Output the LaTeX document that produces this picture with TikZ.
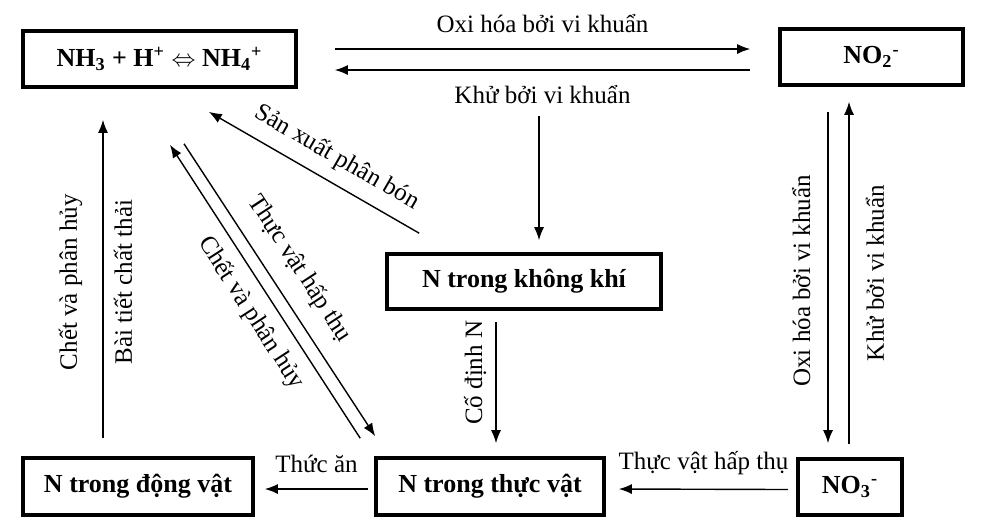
\documentclass[tikz,border=0pt]{standalone}
\usepackage{fontspec}
\setmainfont{Liberation Serif}
\usetikzlibrary{arrows.meta}

\tikzset{
  >={Latex[length=6.5pt,width=5pt]},
  box/.style={draw, line width=1.8pt, inner sep=0pt,
    font=\fontsize{13}{15}\selectfont\bfseries},
  ln/.style={line width=.7pt},
  lbl/.style={inner sep=0pt, font=\fontsize{12.5}{15}\selectfont}
}

\begin{document}
\begin{tikzpicture}[x=.5pt,y=-.5pt]
  \useasboundingbox (0,0) rectangle (983,527);
  % boxes
  \node[box, minimum width=136.5pt, minimum height=28pt] (nh) at (159.5,59)
    {NH\textsubscript{3} + H\textsuperscript{+} $\Leftrightarrow$ NH\textsubscript{4}\textsuperscript{+}};
  \node[box, minimum width=91.5pt, minimum height=28pt] (no2) at (871.5,57)
    {NO\textsubscript{2}\textsuperscript{-}};
  \node[box, minimum width=137pt, minimum height=27.5pt] (air) at (524,281.5)
    {N trong không khí};
  \node[box, minimum width=115pt, minimum height=28.5pt] (animal) at (138,486.5)
    {N trong động vật};
  \node[box, minimum width=114pt, minimum height=28.5pt] (plant) at (490,486.5)
    {N trong thực vật};
  \node[box, minimum width=52pt, minimum height=28pt] (no3) at (850,487)
    {NO\textsubscript{3}\textsuperscript{-}};

  % NH4 <-> NO2
  \draw[ln,->] ([shift={(37,-10)}]nh.east) -- ([shift={(-28,-8)}]no2.west)
    node[lbl, midway, above=8pt] {Oxi hóa bởi vi khuẩn};
  \draw[ln,->] ([shift={(-28,13)}]no2.west) -- ([shift={(37,11)}]nh.east)
    node[lbl, midway, below=7.5pt] {Khử bởi vi khuẩn};
  \draw[ln,->] ([shift={(15,-136)}]air.north) -- ([shift={(15,-12)}]air.north);

  % diagonals
  \draw[ln,<-] ([shift={(-89,23)}]nh.south east) -- ([shift={(34,-19)}]air.north west)
    node[lbl, sloped, pos=.55, above=6pt] {Sản xuất phân bón};
  \draw[ln,<-] ([shift={(10.5,56)}]nh.south) -- ([shift={(-14,-18)}]plant.north west)
    node[lbl, sloped, pos=.53, below=5.5pt] {Chết và phân hủy};
  \draw[ln,->] ([shift={(24.5,55)}]nh.south) -- ([shift={(1,-20)}]plant.north west)
    node[lbl, sloped, pos=.48, above=8pt] {Thực vật hấp thụ};

  % verticals
  \draw[ln,->] ([shift={(-35,-18)}]animal.north) -- ([shift={(-56.5,31)}]nh.south)
    node[lbl, sloped, pos=.49, above=10pt] {Chết và phân hủy}
    node[lbl, sloped, pos=.49, below=5pt] {Bài tiết chất thải};
  \draw[ln,<-] ([shift={(6,-13)}]plant.north) -- ([shift={(-28,11)}]air.south)
    node[lbl, sloped, pos=.58, above=4.5pt] {Cố định N};
  \draw[ln,<-] ([shift={(-22,-14)}]no3.north) -- ([shift={(-43.5,25)}]no2.south)
    node[lbl, sloped, pos=.49, above=8.5pt] {Oxi hóa bởi vi khuẩn};
  \draw[ln,->] ([shift={(-1,-13)}]no3.north) -- ([shift={(-22.5,15)}]no2.south)
    node[lbl, sloped, pos=.5, below=8pt] {Khử bởi vi khuẩn};

  % bottom row
  \draw[ln,->] ([shift={(-8,2.5)}]no3.west) -- ([shift={(13,2.5)}]plant.east)
    node[lbl, midway, above=7pt] {Thực vật hấp thụ};
  \draw[ln,->] ([shift={(-6,2.5)}]plant.west) -- ([shift={(10,2.5)}]animal.east)
    node[lbl, midway, above=8pt] {Thức ăn};
\end{tikzpicture}
\end{document}
